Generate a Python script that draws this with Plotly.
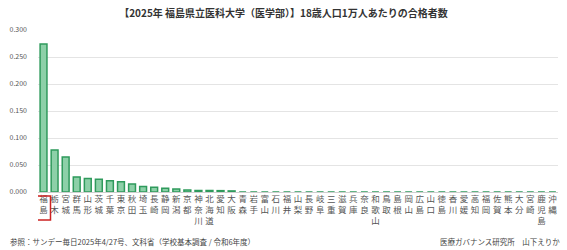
import plotly.graph_objects as go

prefectures = ["福島", "栃木", "宮城", "群馬", "山形", "茨城", "千葉", "東京", "秋田", "埼玉",
               "長崎", "静岡", "新潟", "京都", "神奈川", "北海道", "愛知", "大阪", "青森", "岩手",
               "富山", "石川", "福井", "山梨", "長野", "岐阜", "三重", "滋賀", "兵庫", "奈良",
               "和歌山", "鳥取", "島根", "岡山", "広島", "山口", "徳島", "香川", "愛媛", "高知",
               "福岡", "佐賀", "熊本", "大分", "宮崎", "鹿児島", "沖縄"]
values = [0.274, 0.078, 0.065, 0.028, 0.025, 0.0235, 0.021, 0.019, 0.015, 0.010,
          0.0087, 0.0068, 0.0056, 0.0037, 0.0030, 0.0028, 0.0025, 0.0020, 0, 0,
          0, 0, 0, 0, 0, 0, 0, 0, 0, 0,
          0, 0, 0, 0, 0, 0, 0, 0, 0, 0,
          0, 0, 0, 0, 0, 0, 0]
y_ticks = [0.0, 0.05, 0.10, 0.15, 0.20, 0.25, 0.30]

title_text = "【2025年 福島県立医科大学（医学部）】18歳人口1万人あたりの合格者数"
source_text = "参照：サンデー毎日2025年4/27号、文科省（学校基本調査 / 令和6年度）"
credit_text = "医療ガバナンス研究所　山下えりか"

FONT = "Noto Sans CJK JP"

fig = go.Figure()
fig.add_trace(go.Bar(
    x=list(range(len(prefectures))),
    y=values,
    marker=dict(color="#8dd0a8", line=dict(color="#2f9a5c", width=1.5)),
    width=0.62,
))

fig.update_layout(
    width=567, height=250,
    margin=dict(l=36, r=9, t=30, b=58),
    paper_bgcolor="white", plot_bgcolor="white",
    font=dict(family=FONT, color="#555555"),
    showlegend=False,
    title=dict(text="<b>" + title_text + "</b>", x=0.5, xanchor="center",
               y=1 - 13 / 250, yanchor="middle", yref="container",
               font=dict(size=10, color="#333333", family=FONT)),
)
fig.update_xaxes(
    tickmode="array",
    tickvals=list(range(len(prefectures))),
    ticktext=["<br>".join(p) for p in prefectures],
    tickfont=dict(size=8.5, color="#555555", family=FONT),
    tickangle=0,
    range=[-0.5, len(prefectures) - 0.5],
    showgrid=False, zeroline=False,
    showline=False, ticks="",
)
fig.update_yaxes(
    range=[0, 0.3],
    tickmode="array",
    tickvals=y_ticks,
    ticktext=[f"{v:.3f}" for v in y_ticks],
    tickfont=dict(size=7, color="#555555", family=FONT),
    showgrid=True, gridcolor="#e4e4e4", gridwidth=1,
    zeroline=True, zerolinecolor="#cfcfcf", zerolinewidth=1,
    ticks="", ticklabelstandoff=10,
)

# red highlight box around Fukushima label
fig.add_shape(type="rect", xref="x", yref="paper",
              x0=-0.63, x1=0.63, y0=-0.173, y1=-0.024,
              line=dict(color="#cc2222", width=1.5), fillcolor="rgba(0,0,0,0)")

fig.add_annotation(text=source_text, xref="paper", yref="paper",
                   x=-30 / 522, y=-49 / 162, xanchor="left", yanchor="middle",
                   showarrow=False, font=dict(size=7.5, color="#444444", family=FONT))
fig.add_annotation(text=credit_text, xref="paper", yref="paper",
                   x=1 + 4 / 522, y=-49 / 162, xanchor="right", yanchor="middle",
                   showarrow=False, font=dict(size=7.5, color="#444444", family=FONT))

fig.write_html("out.html")
